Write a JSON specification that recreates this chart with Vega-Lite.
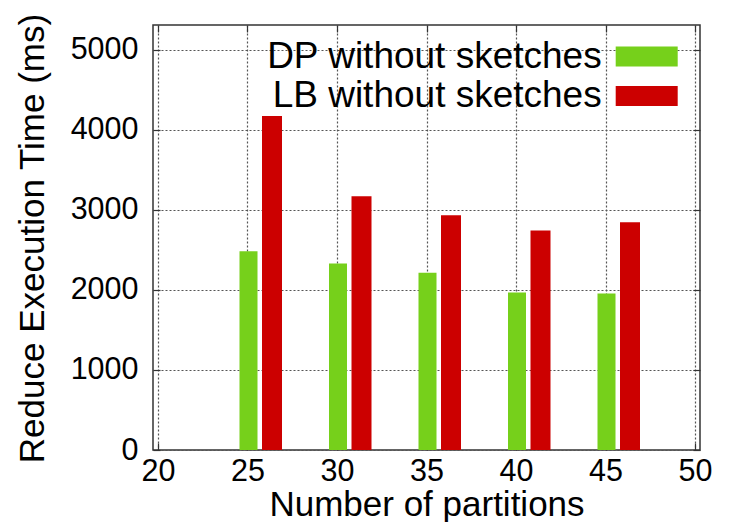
{
  "$schema": "https://vega.github.io/schema/vega-lite/v6.json",
  "width": 547,
  "height": 425,
  "autosize": "none",
  "padding": {"left": 153, "top": 25, "right": 33, "bottom": 72},
  "background": "white",
  "data": {
    "values": [
      {"partitions": 25, "series": "DP without sketches", "time": 2485},
      {"partitions": 30, "series": "DP without sketches", "time": 2330},
      {"partitions": 35, "series": "DP without sketches", "time": 2215},
      {"partitions": 40, "series": "DP without sketches", "time": 1970},
      {"partitions": 45, "series": "DP without sketches", "time": 1955},
      {"partitions": 25, "series": "LB without sketches", "time": 4175},
      {"partitions": 30, "series": "LB without sketches", "time": 3173},
      {"partitions": 35, "series": "LB without sketches", "time": 2935},
      {"partitions": 40, "series": "LB without sketches", "time": 2745},
      {"partitions": 45, "series": "LB without sketches", "time": 2848}
    ]
  },
  "config": {
    "font": "Liberation Sans",
    "view": {"stroke": "#333333", "strokeWidth": 1.5},
    "axis": {
      "domain": false,
      "labelColor": "#000000",
      "titleColor": "#000000",
      "titleFontWeight": "normal",
      "tickColor": "#333333",
      "tickWidth": 1.2,
      "gridColor": "#555555",
      "gridDash": [2, 2],
      "gridWidth": 1.2,
      "gridOpacity": 1
    }
  },
  "layer": [
    {
      "transform": [{"filter": "datum.series === 'DP without sketches'"}],
      "mark": {"type": "bar", "width": 18, "xOffset": 1},
      "encoding": {
        "x": {
          "field": "partitions",
          "type": "quantitative",
          "scale": {"domain": [20, 50], "nice": false, "zero": false},
          "axis": {
            "orient": "bottom",
            "values": [20, 25, 30, 35, 40, 45, 50],
            "format": "d",
            "grid": true,
            "tickSize": -7,
            "labelFontSize": 30.5,
            "labelPadding": 13,
            "labelFlush": false,
            "title": "Number of partitions",
            "titleFontSize": 35,
            "titleBaseline": "middle",
            "titleY": 54.5
          }
        },
        "y": {
          "field": "time",
          "type": "quantitative",
          "scale": {"domain": [0, 5312], "nice": false},
          "axis": {
            "orient": "left",
            "values": [0, 1000, 2000, 3000, 4000, 5000],
            "format": "d",
            "grid": true,
            "tickSize": -7,
            "labelFontSize": 30.5,
            "labelPadding": 22,
            "labelFlush": false,
            "title": "Reduce Execution Time (ms)",
            "titleFontSize": 35,
            "titleAngle": -90,
            "titleAlign": "center",
            "titleBaseline": "middle",
            "titleX": -121,
            "titleY": 213
          }
        },
        "color": {
          "field": "series",
          "type": "nominal",
          "scale": {"domain": ["DP without sketches", "LB without sketches"], "range": ["#76d01b", "#cc0000"]},
          "legend": {
            "orient": "none",
            "legendX": 475.2,
            "legendY": 13,
            "title": null,
            "symbolType": "M-3.1,-1L3.1,-1L3.1,1L-3.1,1Z",
            "symbolSize": 400,
            "symbolStrokeWidth": 0,
            "symbolOpacity": 1,
            "labelFontSize": 37,
            "labelColor": "#000000",
            "labelAlign": "right",
            "labelOffset": -63.5,
            "labelLimit": 1000,
            "rowPadding": 1.5
          }
        }
      }
    },
    {
      "transform": [{"filter": "datum.series === 'LB without sketches'"}],
      "mark": {"type": "bar", "width": 20, "xOffset": 24.5},
      "encoding": {
        "x": {
          "field": "partitions",
          "type": "quantitative",
          "scale": {"domain": [20, 50], "nice": false, "zero": false},
          "axis": {
            "orient": "top",
            "values": [20, 25, 30, 35, 40, 45, 50],
            "grid": false,
            "labels": false,
            "tickSize": -7,
            "title": null
          }
        },
        "y": {
          "field": "time",
          "type": "quantitative",
          "scale": {"domain": [0, 5312], "nice": false},
          "axis": {
            "orient": "right",
            "values": [0, 1000, 2000, 3000, 4000, 5000],
            "grid": false,
            "labels": false,
            "tickSize": -7,
            "title": null
          }
        },
        "color": {
          "field": "series",
          "type": "nominal",
          "scale": {"domain": ["DP without sketches", "LB without sketches"], "range": ["#76d01b", "#cc0000"]}
        }
      }
    }
  ],
  "resolve": {"axis": {"x": "independent", "y": "independent"}}
}
